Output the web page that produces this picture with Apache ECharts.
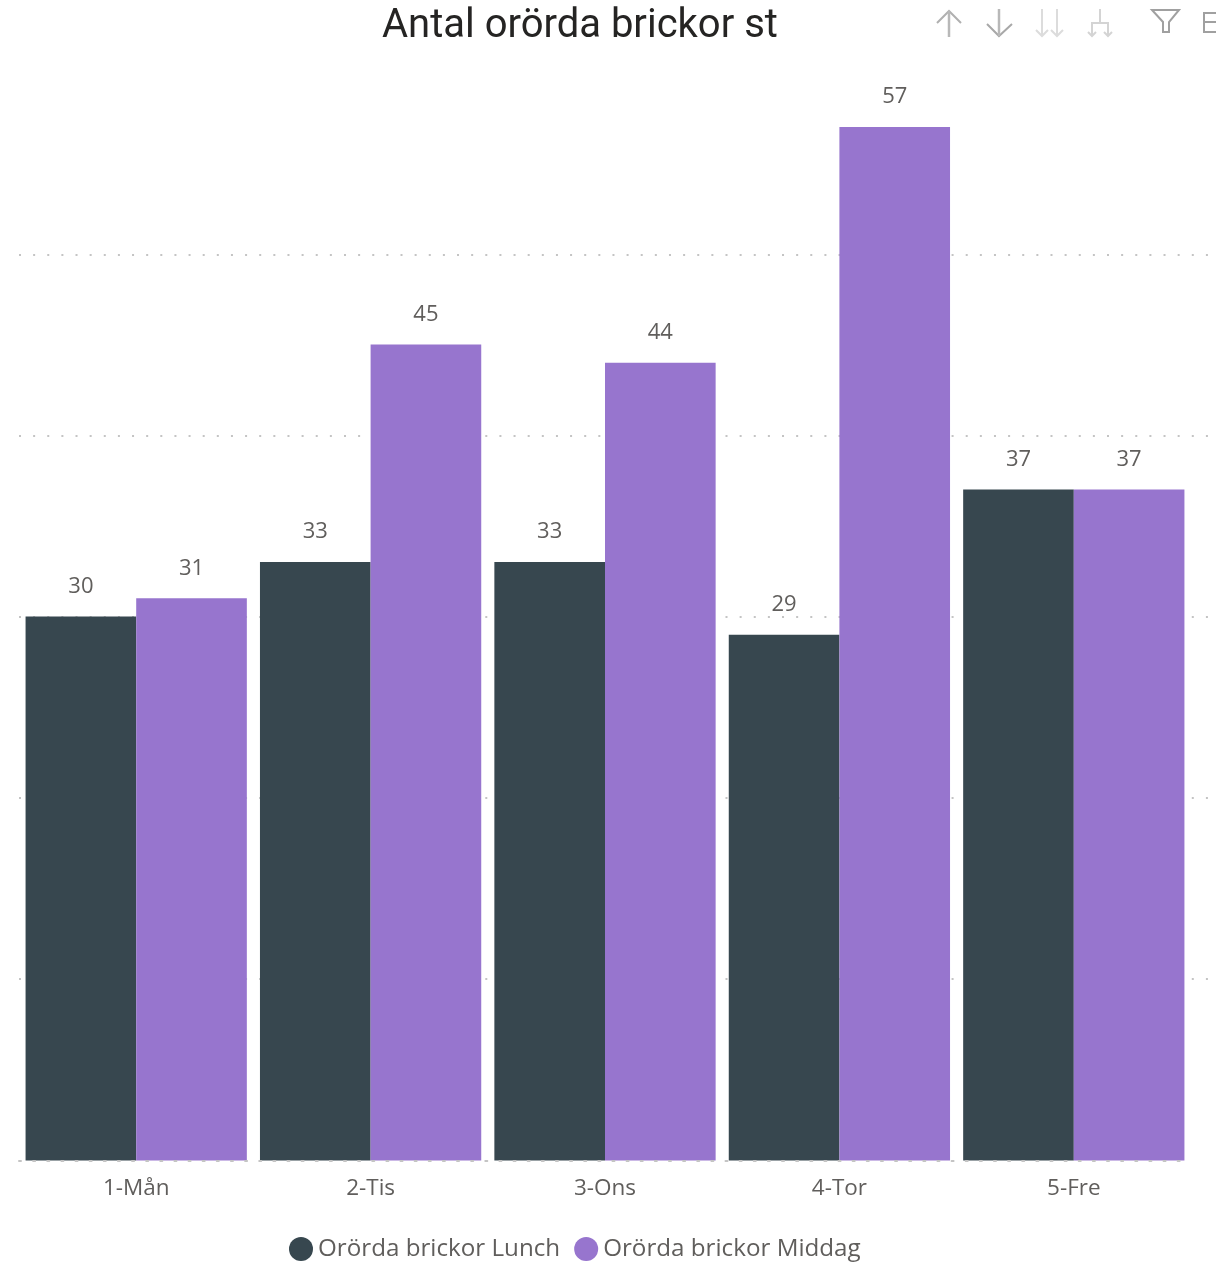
<!DOCTYPE html>
<html><head><meta charset="utf-8">
<style>html,body{margin:0;padding:0;background:#fff}#c{width:1219px;height:1263px}</style>
<script src="https://cdn.jsdelivr.net/npm/echarts@6/dist/echarts.min.js"></script>
</head><body><div id="c"></div>
<script>
const categories = ['1-Mån','2-Tis','3-Ons','4-Tor','5-Fre'];
const lunch = [30,33,33,29,37];
const middag = [31,45,44,57,37];
const seriesNames = ['Orörda brickor Lunch','Orörda brickor Middag'];
const titleText = 'Antal orörda brickor st';
const FONT = '"Open Sans", "Noto Sans", sans-serif';
const TXT = '#605E5C';
const DOTS = {type:[2,12.13],color:'#c4c4c4',width:2};
const chart = echarts.init(document.getElementById('c'), null, {renderer:'canvas'});
chart.setOption({
  animation:false,
  backgroundColor:'#fff',
  title:{text:titleText,left:382,top:7,padding:0,
    textStyle:{fontFamily:'Roboto, sans-serif',fontSize:40,fontWeight:400,color:'#252423'}},
  legend:{left:289,top:1237,data:seriesNames,icon:'circle',itemWidth:24,itemHeight:24,itemGap:14,padding:0,
    textStyle:{fontFamily:FONT,fontSize:24.2,color:TXT,padding:[0,0,0,0]}},
  grid:[
    {left:19,right:11,top:74,height:1086},
    {left:19,right:28,top:72.5,height:1088}
  ],
  xAxis:[
    {type:'category',gridIndex:0,show:false,data:['']},
    {type:'category',gridIndex:1,data:categories,z:3,
      axisLine:{show:true,lineStyle:DOTS},axisTick:{show:false},
      axisLabel:{margin:17,fontFamily:FONT,fontSize:22.5,color:TXT}}
  ],
  yAxis:[
    {type:'value',gridIndex:0,min:0,max:60,interval:10,axisLabel:{show:false},axisLine:{show:false},axisTick:{show:false},
      splitLine:{show:true,showMaxLine:false,showMinLine:false,lineStyle:DOTS}},
    {type:'value',gridIndex:1,min:0,max:60,interval:10,axisLabel:{show:false},axisLine:{show:false},axisTick:{show:false},
      splitLine:{show:false}}
  ],
  series:[
    {name:seriesNames[0],type:'bar',xAxisIndex:1,yAxisIndex:1,data:lunch,barWidth:'47.2%',barGap:'0%',
      itemStyle:{color:'#37474F'},
      label:{show:true,position:'top',distance:19,fontFamily:FONT,fontSize:22,color:TXT}},
    {name:seriesNames[1],type:'bar',xAxisIndex:1,yAxisIndex:1,data:middag,barWidth:'47.2%',barGap:'0%',
      itemStyle:{color:'#9775CE'},
      label:{show:true,position:'top',distance:19,fontFamily:FONT,fontSize:22,color:TXT}}
  ],
  graphic:[
    {type:'polyline',silent:true,shape:{points:[[937,23],[949,11],[961,23]]},style:{fill:'none',stroke:'#b0b0b0',lineWidth:2}},
    {type:'line',silent:true,shape:{x1:949,y1:11,x2:949,y2:37},style:{stroke:'#b8b8b8',lineWidth:2.5}},
    {type:'polyline',silent:true,shape:{points:[[987,24],[999,36],[1012,24]]},style:{fill:'none',stroke:'#a8a8a8',lineWidth:2}},
    {type:'line',silent:true,shape:{x1:999,y1:9,x2:999,y2:36},style:{stroke:'#b8b8b8',lineWidth:2.5}},
    {type:'line',silent:true,shape:{x1:1042,y1:9,x2:1042,y2:36},style:{stroke:'#dcdcdc',lineWidth:2}},
    {type:'polyline',silent:true,shape:{points:[[1036,30],[1042,36],[1048,30]]},style:{fill:'none',stroke:'#dcdcdc',lineWidth:2}},
    {type:'line',silent:true,shape:{x1:1057,y1:9,x2:1057,y2:36},style:{stroke:'#dcdcdc',lineWidth:2}},
    {type:'polyline',silent:true,shape:{points:[[1051,30],[1057,36],[1063,30]]},style:{fill:'none',stroke:'#dcdcdc',lineWidth:2}},
    {type:'polyline',silent:true,shape:{points:[[1092,36],[1092,23],[1108,23],[1108,36]]},style:{fill:'none',stroke:'#d4d4d4',lineWidth:2}},
    {type:'line',silent:true,shape:{x1:1100,y1:9,x2:1100,y2:23},style:{stroke:'#d4d4d4',lineWidth:2}},
    {type:'polyline',silent:true,shape:{points:[[1088,32],[1092,36],[1096,32]]},style:{fill:'none',stroke:'#d4d4d4',lineWidth:2}},
    {type:'polyline',silent:true,shape:{points:[[1104,32],[1108,36],[1112,32]]},style:{fill:'none',stroke:'#d4d4d4',lineWidth:2}},
    {type:'polygon',silent:true,shape:{points:[[1152,10],[1179,10],[1169,22],[1169,32],[1163,32],[1163,22]]},style:{fill:'none',stroke:'#a0a0a0',lineWidth:2}},
    {type:'polyline',silent:true,shape:{points:[[1216,13],[1204,13],[1204,32],[1216,32]]},style:{fill:'none',stroke:'#a0a0a0',lineWidth:2}},
    {type:'line',silent:true,shape:{x1:1204,y1:22,x2:1216,y2:22},style:{stroke:'#a0a0a0',lineWidth:2}}
  ]
});
</script></body></html>
